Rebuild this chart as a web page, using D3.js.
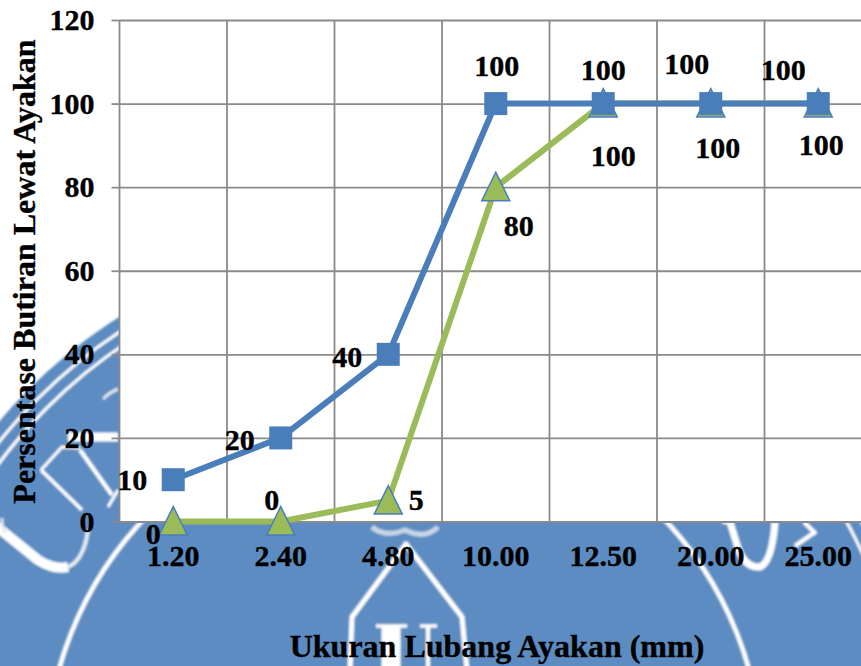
<!DOCTYPE html>
<html>
<head>
<meta charset="utf-8">
<script src="https://cdn.jsdelivr.net/npm/d3@7"></script>
<style>
  html, body { margin: 0; padding: 0; background: #fff; overflow: hidden; }
  svg { display: block; }
  text { font-family: "Liberation Serif", serif; font-weight: 700; fill: #000; stroke: #000; stroke-width: 0.35px; }
</style>
</head>
<body>
<svg id="chart" width="861" height="666"></svg>
<script>
// Sieve sizes and the two grading curves (percent passing)
const sieveSizes = ["1.20", "2.40", "4.80", "10.00", "12.50", "20.00", "25.00"];
const upperPassing = [10, 20, 40, 100, 100, 100, 100];
const lowerPassing = [0, 0, 5, 80, 100, 100, 100];
const yTicks = [0, 20, 40, 60, 80, 100, 120];

// Hand-placed data label offsets from each marker, in pixels
const upperLabelOffsets = [[-41, 0], [-41, 2], [-41, 2], [1, -38], [0, -34], [-24, -40], [-35, -34]];
const lowerLabelOffsets = [[-20, 12], [-9, -22], [28, -1], [23, 38], [10, 52], [7, 44], [3, 41]];

const svg = d3.select("#chart");
const plot = { left: 119.5, top: 20, bottom: 521.5, band: 107.5 };
const fontSize = 30;
const titleSize = 32;

const x = d3.scaleBand().domain(sieveSizes)
  .range([plot.left, plot.left + plot.band * sieveSizes.length]);
const y = d3.scaleLinear().domain([0, 120]).range([plot.bottom, plot.top]);
const cx = d => x(d) + x.bandwidth() / 2;

// University seal behind the chart
const defs = svg.append("defs");
defs.append("filter").attr("id", "soft")
  .attr("x", "-5%").attr("y", "-5%").attr("width", "110%").attr("height", "110%")
  .append("feGaussianBlur").attr("stdDeviation", 0.9);

const seal = svg.append("g").attr("filter", "url(#soft)");
const sealC = { x: 404, y: 765 };
seal.append("circle").attr("cx", sealC.x).attr("cy", sealC.y).attr("r", 531).attr("fill", "#5b8cc1");
[[518, 3], [505, 3], [358, 4.5]].forEach(([r, w]) => {
  seal.append("circle").attr("cx", sealC.x).attr("cy", sealC.y).attr("r", r)
    .attr("fill", "none").attr("stroke", "#fff").attr("stroke-width", w);
});
const sealStrokes = [
  // lettering around the left of the ring
  ["M-4 526 L38 560 Q54 570 68 567", 10, "#fff"],
  ["M68 567 Q84 560 88 530", 4, "#e8ebf2"],
  ["M68 437 L118 437", 9, "#fff"],
  ["M41 470 L62 447 L80 448", 3, "#fff"],
  ["M41 470 L82 510", 3.5, "#fff"],
  ["M80 450 L112 495", 4, "#fff"],
  ["M108 507 L118 490", 3, "#fff"],
  ["M103 399 Q110 392 118 389", 3, "#dfe6f0"],
  ["M2 518 Q1 526 6 533", 3, "#dfe6f0"],
  // crest outline at the bottom centre
  ["M350 670 L352 617 L406 544 L462 617 L467 670", 5, "#fff"],
  ["M372 527 Q385 538 405 530 Q425 540 438 527", 5, "#c9d6e8"],
  ["M376 626 L407 626", 3.5, "#fff"],
  ["M420 626 L437 626", 3.5, "#fff"],
  ["M391 626 L391 670", 19, "#fff"],
  ["M428 626 L428 670", 4, "#fff"],
  // lettering to the right of the crest
  ["M722 522 L734 524", 3, "#fff"],
  ["M730 522 L738 548 Q745 568 760 567 Q772 562 775 522", 7, "#fff"],
  ["M795 546 L815 532", 4, "#fff"],
  ["M804 522 L816 534", 4, "#fff"]
];
sealStrokes.forEach(([d, w, c]) => {
  seal.append("path").attr("d", d).attr("fill", "none")
    .attr("stroke", c).attr("stroke-width", w).attr("stroke-linejoin", "round");
});

// White plot area
svg.append("rect").attr("x", plot.left).attr("y", plot.top)
  .attr("width", 861 - plot.left).attr("height", plot.bottom - plot.top).attr("fill", "#fff");

// Gridlines
const gridColor = "#8a8a8a";
svg.append("g").selectAll("line").data(sieveSizes).join("line")
  .attr("x1", d => x(d)).attr("x2", d => x(d))
  .attr("y1", plot.top).attr("y2", plot.bottom)
  .attr("stroke", gridColor).attr("stroke-width", 1.8);

// Value axis with full-width gridlines
const yAxis = svg.append("g").attr("transform", `translate(${plot.left},0)`)
  .call(d3.axisLeft(y).tickValues(yTicks).tickSize(8).tickPadding(17));
yAxis.select(".domain").remove();
yAxis.selectAll("line").attr("stroke", gridColor).attr("stroke-width", 1.8);
yAxis.selectAll("g.tick").append("line")
  .attr("x1", 0).attr("x2", 861 - plot.left)
  .attr("stroke", gridColor).attr("stroke-width", 1.8);
yAxis.selectAll("text").style("font-size", fontSize + "px").attr("font-family", null);

// Category axis labels
const xAxis = svg.append("g").attr("transform", `translate(0,${plot.bottom})`)
  .call(d3.axisBottom(x).tickSize(0).tickPadding(23));
xAxis.select(".domain").remove();
xAxis.selectAll("text").style("font-size", fontSize + "px").attr("font-family", null);

// Curves and markers: the lower curve sits under the upper one
const line = d3.line().x((d, i) => cx(sieveSizes[i])).y(d => y(d));

svg.append("path").datum(lowerPassing).attr("d", line)
  .attr("fill", "none").attr("stroke", "#9bbb59").attr("stroke-width", 6);
svg.append("path").datum(upperPassing).attr("d", line)
  .attr("fill", "none").attr("stroke", "#4a7ebb").attr("stroke-width", 6);

const triangle = "M0 -15 L14 13.5 L-14 13.5 Z";
svg.append("g").selectAll("path").data(lowerPassing).join("path")
  .attr("d", triangle)
  .attr("transform", (d, i) => `translate(${cx(sieveSizes[i])},${y(d)})`)
  .attr("fill", "#9bbb59").attr("stroke", "#4a7ebb").attr("stroke-width", 1.5);

const squareSize = 23;
svg.append("g").selectAll("rect").data(upperPassing).join("rect")
  .attr("x", (d, i) => cx(sieveSizes[i]) - squareSize / 2)
  .attr("y", d => y(d) - squareSize / 2)
  .attr("width", squareSize).attr("height", squareSize)
  .attr("fill", "#4a7ebb");

// Data labels
function labels(values, offsets) {
  svg.append("g").selectAll("text").data(values).join("text")
    .attr("x", (d, i) => cx(sieveSizes[i]) + offsets[i][0])
    .attr("y", (d, i) => y(d) + offsets[i][1])
    .attr("text-anchor", "middle").attr("dominant-baseline", "central")
    .style("font-size", fontSize + "px")
    .text(d => d);
}
labels(lowerPassing, lowerLabelOffsets);
labels(upperPassing, upperLabelOffsets);

// Axis titles
svg.append("text").attr("x", 497).attr("y", 657).attr("text-anchor", "middle")
  .style("font-size", titleSize + "px").text("Ukuran Lubang Ayakan (mm)");
svg.append("text").attr("transform", "translate(35,271.5) rotate(-90)").attr("text-anchor", "middle")
  .style("font-size", titleSize + "px").text("Persentase Butiran Lewat Ayakan");
</script>
</body>
</html>
